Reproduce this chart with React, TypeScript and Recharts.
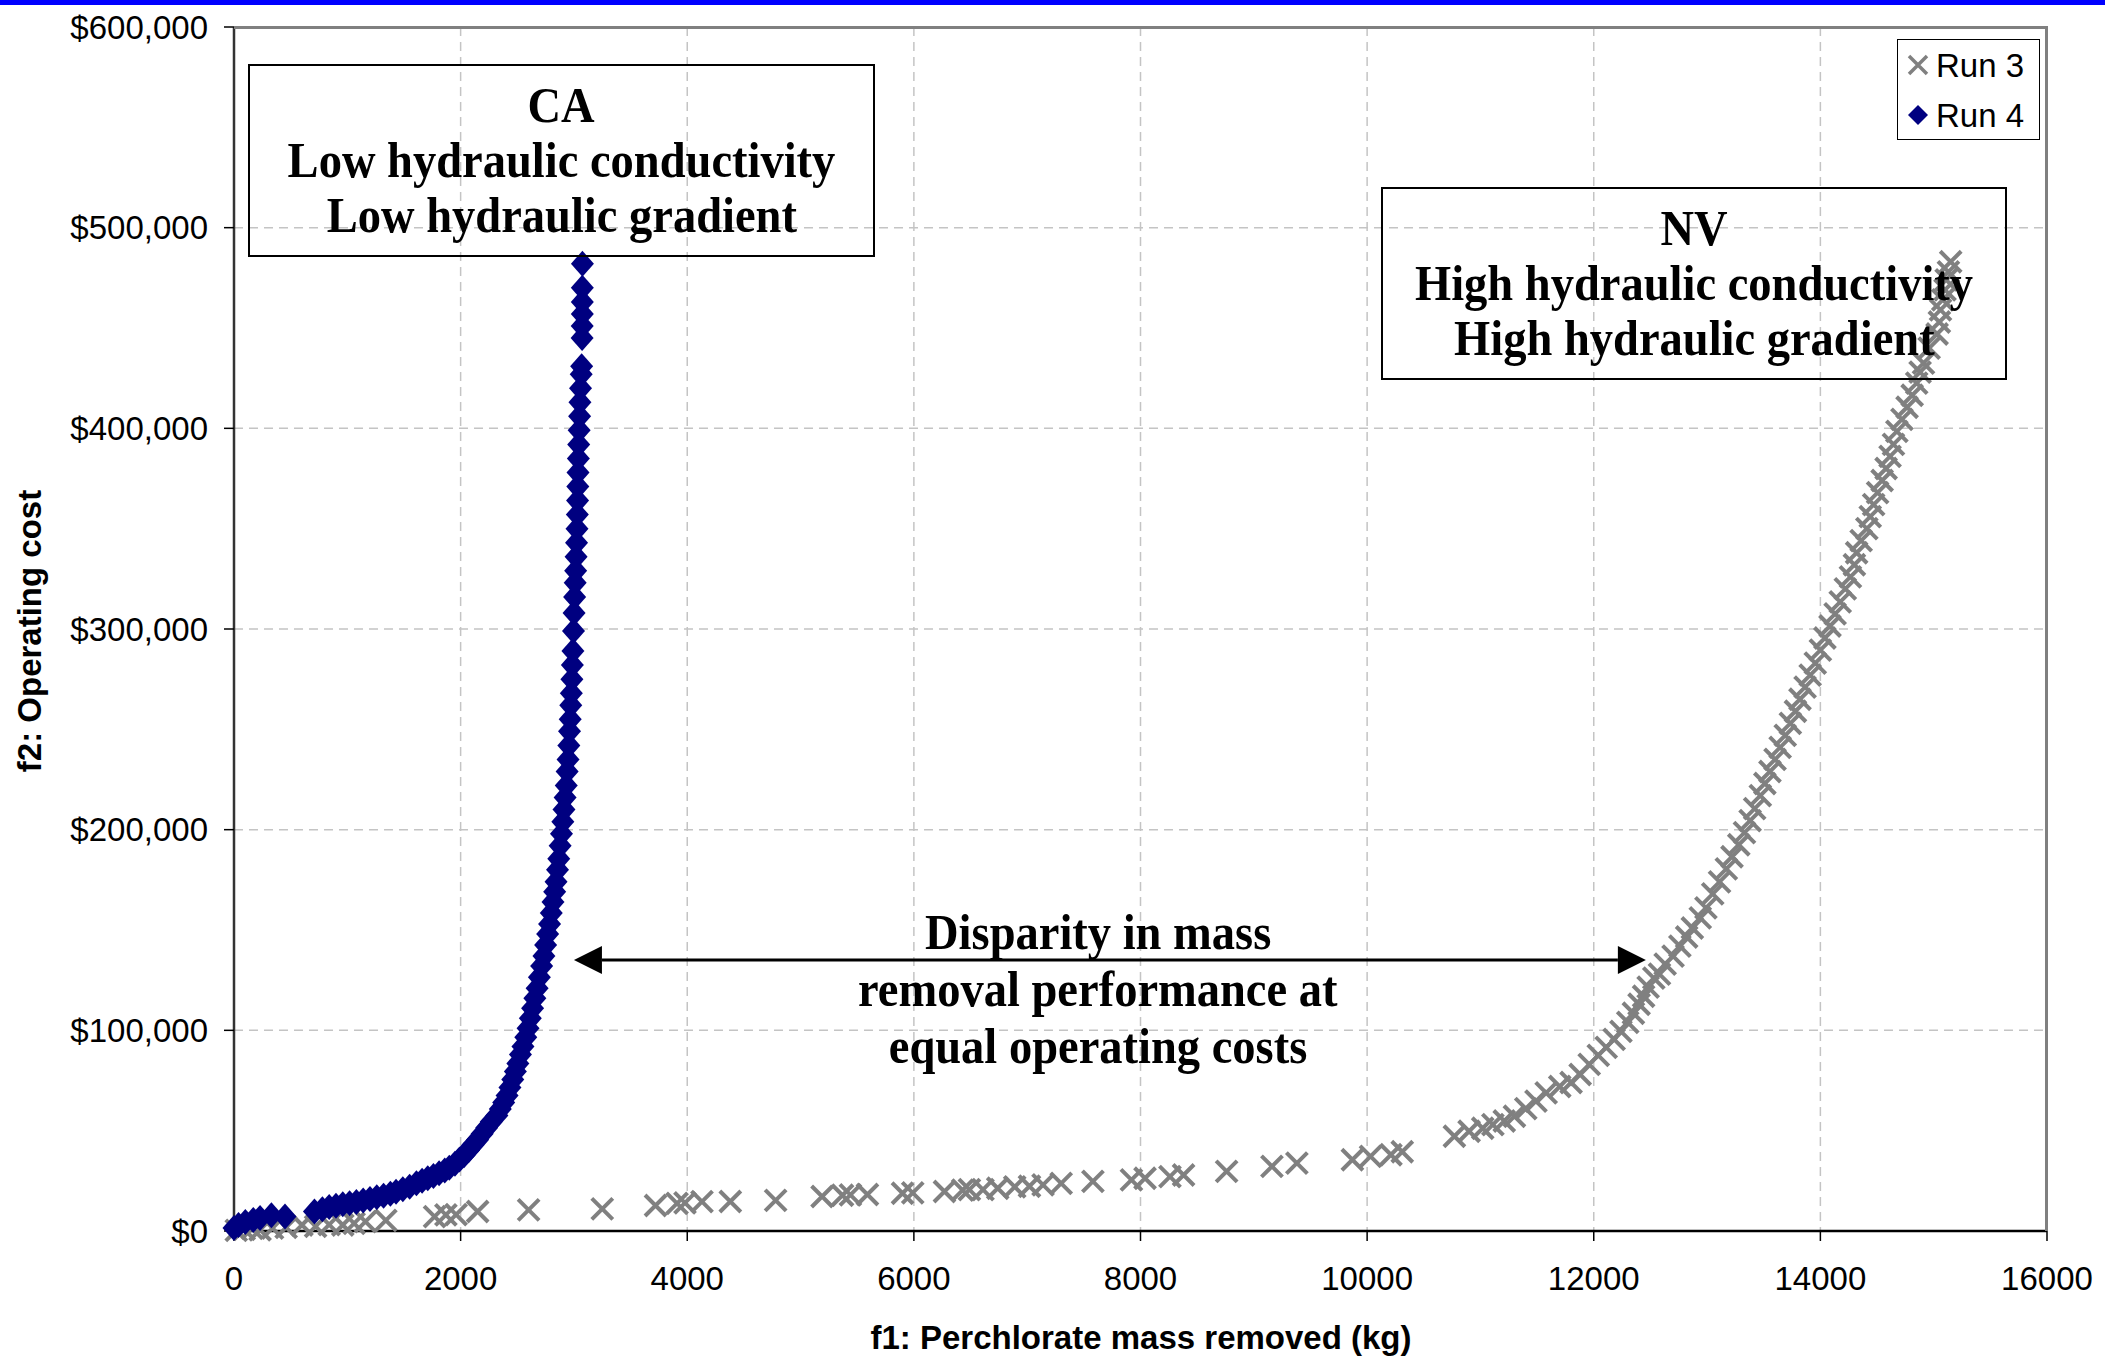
import React from "react";
import {
  ScatterChart, Scatter, XAxis, YAxis, CartesianGrid, Legend, ReferenceLine,
} from "recharts";

// axis ticks
const massTicks = [0, 2000, 4000, 6000, 8000, 10000, 12000, 14000, 16000];
const costTicks = [0, 100000, 200000, 300000, 400000, 500000, 600000];

// Run 3: [mass removed (kg), operating cost ($)]
const run3Points: [number, number][] = [
  [20, 300], [90, 800], [160, 1300], [230, 600], [340, 1400], [460, 1800], [600, 3000],
  [720, 2300], [840, 3200], [960, 3000], [1060, 3800], [1160, 4700], [1340, 5300],
  [1770, 7200], [1870, 8000], [1960, 8200], [2150, 9700], [2600, 10500], [3250, 11000],
  [3720, 12700], [3910, 13800], [3980, 14000], [4130, 14600], [4380, 14700], [4780, 15300],
  [5190, 17200], [5370, 17800], [5440, 18000], [5590, 18200], [5900, 18800], [5990, 19000],
  [6270, 19700], [6430, 20400], [6490, 20600], [6610, 20600], [6740, 21300], [6890, 22000],
  [7020, 22300], [7140, 23000], [7300, 23700], [7580, 24700], [7920, 25500], [8040, 26300],
  [8260, 27100], [8380, 27900], [8760, 29700], [9160, 32200], [9380, 33800], [9870, 35500],
  [10030, 37200], [10210, 38000], [10310, 39500], [10770, 47200], [10900, 49700],
  [11020, 51200], [11110, 53000], [11210, 54800], [11300, 57200], [11400, 61000],
  [11490, 64700], [11580, 68800], [11700, 72000], [11800, 74000], [11880, 78000],
  [11960, 83000], [12040, 87500], [12110, 91500], [12180, 95500], [12240, 99500],
  [12300, 104000], [12350, 108500], [12400, 113000], [12440, 117000], [12480, 121500],
  [12530, 126000], [12580, 128000], [12630, 133000], [12700, 137000], [12760, 142000],
  [12820, 146500], [12870, 151000], [12940, 156000], [12990, 161000], [13050, 168000],
  [13110, 174000], [13170, 180500], [13220, 186500], [13280, 192500], [13330, 198500],
  [13380, 204500], [13420, 210500], [13470, 217000], [13510, 223000], [13555, 229000],
  [13600, 235000], [13645, 241000], [13690, 247000], [13735, 253000], [13780, 259000],
  [13820, 265000], [13865, 271000], [13910, 277000], [13955, 283000], [14000, 289500],
  [14040, 295500], [14085, 301500], [14130, 307500], [14175, 313500], [14220, 320000],
  [14265, 326000], [14300, 332000], [14320, 338000], [14360, 344000], [14410, 350000],
  [14440, 356000], [14470, 362000], [14505, 368000], [14545, 374000], [14580, 380000],
  [14615, 386000], [14645, 392000], [14675, 398500], [14720, 404500], [14765, 410500],
  [14810, 416500], [14850, 422500], [14880, 428000], [14910, 432500], [14960, 440000],
  [15030, 447000], [15050, 453000], [15060, 459000], [15080, 464000], [15100, 469000],
  [15110, 474000], [15130, 478000], [15150, 483000],
];

// Run 4: [mass removed (kg), operating cost ($)]
const run4Points: [number, number][] = [
  [0, 1500], [40, 3000], [100, 4500], [170, 5500], [230, 6500], [330, 7800], [450, 7200],
  [710, 9700], [780, 10800], [840, 12000], [900, 12600], [960, 13300], [1020, 13800],
  [1080, 14400], [1140, 15200], [1200, 16000], [1260, 16800], [1320, 17600], [1380, 18600],
  [1430, 19600], [1490, 20800], [1550, 22000], [1610, 23800], [1660, 25000], [1710, 26300],
  [1760, 27400], [1810, 28800], [1860, 30200], [1900, 31500], [1950, 33500], [1990, 35600],
  [2030, 37800], [2070, 40200], [2110, 43000], [2150, 45500], [2190, 48500], [2230, 51500],
  [2270, 54500], [2320, 57500], [2350, 60800], [2380, 64000], [2410, 67500], [2435, 71500],
  [2460, 75500], [2483, 79500], [2505, 83500], [2528, 88000], [2550, 92000], [2575, 96500],
  [2595, 101000], [2615, 106000], [2635, 111000], [2655, 116000], [2675, 121000],
  [2695, 126500], [2715, 132000], [2735, 137000], [2750, 142500], [2768, 148000],
  [2785, 153000], [2800, 158500], [2815, 164000], [2830, 169000], [2842, 174000],
  [2855, 180000], [2866, 185500], [2878, 192000], [2890, 198000], [2902, 204000],
  [2912, 210000], [2922, 216000], [2932, 222000], [2940, 229000], [2948, 235000],
  [2955, 242000], [2961, 249000], [2967, 255000], [2972, 262000], [2977, 268000],
  [2982, 275000], [2986, 282000], [2991, 289000], [2996, 299000], [3001, 308000],
  [3006, 316000], [3011, 323000], [3015, 329000], [3019, 336000], [3023, 343000],
  [3027, 350000], [3030, 357000], [3032, 364000], [3034, 371000], [3036, 378000],
  [3039, 385000], [3042, 392000], [3046, 399000], [3050, 406000], [3053, 413000],
  [3058, 420000], [3064, 427000], [3068, 431000], [3072, 445000], [3073, 451000],
  [3074, 457000], [3074, 463000], [3074, 470000], [3075, 482000],
];

// double-headed arrow between the two fronts at equal cost
const arrowFromMass = 3000;
const arrowToMass = 12460;
const arrowCost = 135000;

const caLines = ["CA", "Low hydraulic conductivity", "Low hydraulic gradient"];
const nvLines = ["NV", "High hydraulic conductivity", "High hydraulic gradient"];
const disparityLines = ["Disparity in mass", "removal performance at", "equal operating costs"];

const run3Data = run3Points.map(([mass, cost]) => ({ mass, cost }));
const run4Data = run4Points.map(([mass, cost]) => ({ mass, cost }));

const SANS = "'Liberation Sans', Arial, sans-serif";
const SERIF = "'Liberation Serif', 'Times New Roman', serif";
const GRAY = "#808080";
const NAVY = "#000080";

const formatCost = (v: number) => "$" + v.toLocaleString("en-US");

const CrossMark = (props: any) => {
  const { cx, cy } = props;
  if (cx == null || cy == null) return null;
  const r = 10.5;
  return (
    <path
      d={`M${cx - r},${cy - r}L${cx + r},${cy + r}M${cx - r},${cy + r}L${cx + r},${cy - r}`}
      stroke={GRAY}
      strokeWidth={4}
      fill="none"
    />
  );
};

const DiamondMark = (props: any) => {
  const { cx, cy } = props;
  if (cx == null || cy == null) return null;
  return <path d={`M${cx},${cy - 13}L${cx + 11.5},${cy}L${cx},${cy + 13}L${cx - 11.5},${cy}Z`} fill={NAVY} />;
};

const ArrowShape = (props: any) => {
  const { x1, y1, x2 } = props;
  const head = 28;
  const half = 14;
  return (
    <g>
      <line x1={x1 + head} y1={y1} x2={x2 - head} y2={y1} stroke="#000" strokeWidth={3} />
      <path d={`M${x1},${y1}L${x1 + head},${y1 - half}L${x1 + head},${y1 + half}Z`} fill="#000" />
      <path d={`M${x2},${y1}L${x2 - head},${y1 - half}L${x2 - head},${y1 + half}Z`} fill="#000" />
    </g>
  );
};

const legendIcon = (name: string) =>
  name === "Run 3" ? (
    <svg width={22} height={22}>
      <path d="M2,2L20,20M2,20L20,2" stroke={GRAY} strokeWidth={3.5} />
    </svg>
  ) : (
    <svg width={22} height={22}>
      <path d="M11,1L21,11L11,21L1,11Z" fill={NAVY} />
    </svg>
  );

const renderLegend = (props: any) => {
  const entries = (props.payload || []).map((p: any) => String(p.value));
  return (
    <div
      style={{
        width: 143, height: 101, boxSizing: "border-box", border: "1.5px solid #000",
        background: "#fff", paddingTop: 0,
      }}
    >
      {entries.map((name: string) => (
        <div key={name} style={{ height: 50, display: "flex", alignItems: "center", paddingLeft: 9 }}>
          {legendIcon(name)}
          <span style={{ fontFamily: SANS, fontSize: 33, color: "#000", marginLeft: 7, lineHeight: 1 }}>{name}</span>
        </div>
      ))}
    </div>
  );
};

const boxText: React.CSSProperties = {
  position: "absolute", boxSizing: "border-box", display: "flex", flexDirection: "column",
  justifyContent: "center", alignItems: "center", fontFamily: SERIF, fontWeight: "bold",
  fontSize: 50, lineHeight: "55px", color: "#000", whiteSpace: "nowrap", pointerEvents: "none",
};

// serif lines are set slightly narrow
const lineStyle: React.CSSProperties = { transform: "scaleX(0.93)" };

export default function App() {
  return (
    <div style={{ position: "absolute", left: 0, top: 0, width: 2105, height: 1356, background: "#fff" }}>
      <div style={{ position: "absolute", left: 0, top: 0, width: 2105, height: 5, background: "#0000ff", zIndex: 3 }} />
      <ScatterChart width={2105} height={1356} margin={{ top: 27, right: 58, bottom: 0, left: 0 }}>
        <CartesianGrid stroke="#c4c4c4" strokeDasharray="9 6" strokeWidth={1.5} />
        <XAxis
          type="number"
          dataKey="mass"
          domain={[0, 16000]}
          ticks={massTicks}
          height={125}
          tickSize={10}
          tickMargin={26}
          tick={{ fill: "#000", fontSize: 33, fontFamily: SANS }}
          tickLine={{ stroke: "#000", strokeWidth: 1.5 }}
          axisLine={{ stroke: "#000", strokeWidth: 2.5 }}
        />
        <YAxis
          type="number"
          dataKey="cost"
          domain={[0, 600000]}
          ticks={costTicks}
          width={234}
          tickSize={10}
          tickMargin={16}
          tickFormatter={formatCost}
          tick={{ fill: "#000", fontSize: 33, fontFamily: SANS }}
          tickLine={{ stroke: "#000", strokeWidth: 1.5 }}
          axisLine={{ stroke: "#333", strokeWidth: 2.5 }}
        />
        <Scatter name="Run 3" data={run3Data} shape={CrossMark} isAnimationActive={false} />
        <Scatter name="Run 4" data={run4Data} shape={DiamondMark} isAnimationActive={false} />
        <ReferenceLine
          segment={[{ x: arrowFromMass, y: arrowCost }, { x: arrowToMass, y: arrowCost }]}
          shape={ArrowShape}
        />
        <Legend
          layout="vertical"
          align="center"
          verticalAlign="middle"
          content={renderLegend}
          wrapperStyle={{ left: 1897, top: 39, width: 143, height: 101 }}
        />
      </ScatterChart>

      {/* plot frame, top and right */}
      <div
        style={{
          position: "absolute", left: 234, top: 26, width: 1814, height: 1205, boxSizing: "border-box",
          borderTop: `3px solid ${GRAY}`, borderRight: `3px solid ${GRAY}`, pointerEvents: "none",
        }}
      />

      <div style={{ ...boxText, left: 248, top: 64, width: 627, height: 193, border: "2px solid #000" }}>
        {caLines.map((t) => <div key={t} style={lineStyle}>{t}</div>)}
      </div>
      <div style={{ ...boxText, left: 1381, top: 187, width: 626, height: 193, border: "2px solid #000" }}>
        {nvLines.map((t) => <div key={t} style={lineStyle}>{t}</div>)}
      </div>
      <div style={{ ...boxText, left: 798, top: 904, width: 600, height: 171, lineHeight: "57px" }}>
        {disparityLines.map((t) => <div key={t} style={lineStyle}>{t}</div>)}
      </div>

      <div
        style={{
          position: "absolute", left: 1141, top: 1338, transform: "translate(-50%, -50%)",
          fontFamily: SANS, fontWeight: "bold", fontSize: 33, whiteSpace: "nowrap", color: "#000",
        }}
      >
        f1: Perchlorate mass removed (kg)
      </div>
      <div
        style={{
          position: "absolute", left: 30, top: 631, transform: "translate(-50%, -50%) rotate(-90deg)",
          fontFamily: SANS, fontWeight: "bold", fontSize: 33, whiteSpace: "nowrap", color: "#000",
        }}
      >
        f2: Operating cost
      </div>
    </div>
  );
}
